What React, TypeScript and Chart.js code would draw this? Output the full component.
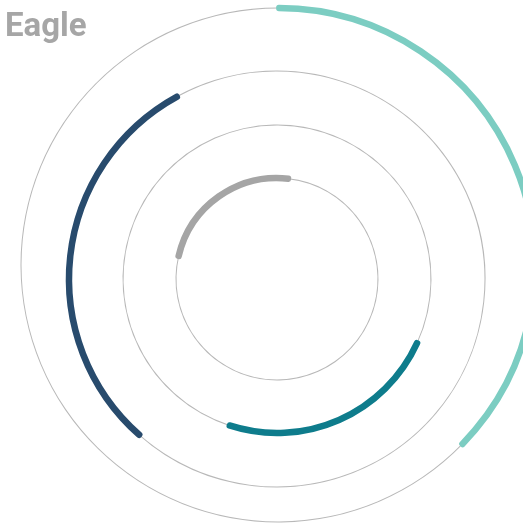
import React, { useEffect, useRef } from "react";
import { Chart, registerables } from "chart.js";

Chart.register(...registerables);

// ---- data -------------------------------------------------------------
const chartTitle = "Eagle";
// rings, outermost first
const ringNames = ["Ring 4", "Ring 3", "Ring 2", "Ring 1"];
// arc start angle (degrees clockwise from 12 o'clock)
const arcStart = [0.2, 221.4, 114.5, 283];
// arc length (degrees)
const arcSpan = [134, 109.9, 83.5, 83.5];
const arcColors = ["#7ccdc2", "#284b6d", "#0e7c8c", "#a5a5a5"];
const ringLineColor = "#b8b8b8";

// ---- helpers ----------------------------------------------------------
function ringDataset(i: number) {
  const span = arcSpan[i];
  return {
    label: ringNames[i],
    data: [360 - span, span],
    rotation: arcStart[i] + span,
    backgroundColor: [ringLineColor, arcColors[i]],
    borderColor: [ringLineColor, arcColors[i]],
    borderWidth: [0, 5.5],
    borderJoinStyle: "round" as const,
    weight: 1,
  };
}

function spacerDataset(w: number) {
  return {
    label: "",
    data: [1],
    backgroundColor: ["rgba(0,0,0,0)"],
    borderWidth: 0,
    weight: w,
  };
}

function baseOptions(radius: number, cutoutPct: number) {
  return {
    animation: false as const,
    responsive: true,
    maintainAspectRatio: false,
    events: [] as any[],
    radius,
    cutout: cutoutPct + "%",
    layout: { padding: 0 },
    plugins: {
      legend: { display: false },
      tooltip: { enabled: false },
      title: { display: false },
    },
  };
}

function RingChart(props: {
  datasets: any[];
  radius: number;
  cutoutPct: number;
  style: React.CSSProperties;
}) {
  const ref = useRef<HTMLCanvasElement | null>(null);
  useEffect(() => {
    if (!ref.current) return;
    const chart = new Chart(ref.current, {
      type: "doughnut",
      data: { labels: ["rest", "value"], datasets: props.datasets as any },
      options: baseOptions(props.radius, props.cutoutPct) as any,
    });
    return () => chart.destroy();
  }, []);
  return (
    <div style={{ position: "absolute", ...props.style }}>
      <canvas ref={ref} />
    </div>
  );
}

export default function App() {
  // outer ring: single ring 1px thick at r=257
  const outerRadius = 257.5;
  const outerCut = (256.5 / 257.5) * 100;

  // inner three rings at r = 208, 154, 101 (1px rings, spacers between)
  const innerDatasets = [
    ringDataset(1),
    spacerDataset(53),
    ringDataset(2),
    spacerDataset(52),
    ringDataset(3),
  ];
  const innerRadius = 208.5;
  const innerCut = ((208.5 - 108) / 208.5) * 100;

  return (
    <div
      style={{
        position: "fixed",
        left: 0,
        top: 0,
        width: 523,
        height: 525,
        overflow: "hidden",
        background: "#ffffff",
      }}
    >
      <RingChart
        datasets={[ringDataset(0)]}
        radius={outerRadius}
        cutoutPct={outerCut}
        style={{ left: 8, top: -5, width: 540, height: 540 }}
      />
      <RingChart
        datasets={innerDatasets}
        radius={innerRadius}
        cutoutPct={innerCut}
        style={{ left: 57, top: 59, width: 440, height: 440 }}
      />
      <div
        style={{
          position: "absolute",
          left: 5,
          top: 8,
          fontFamily: "Roboto, sans-serif",
          fontWeight: 700,
          fontSize: 33,
          lineHeight: "33px",
          color: "#a6a6a6",
        }}
      >
        {chartTitle}
      </div>
    </div>
  );
}
